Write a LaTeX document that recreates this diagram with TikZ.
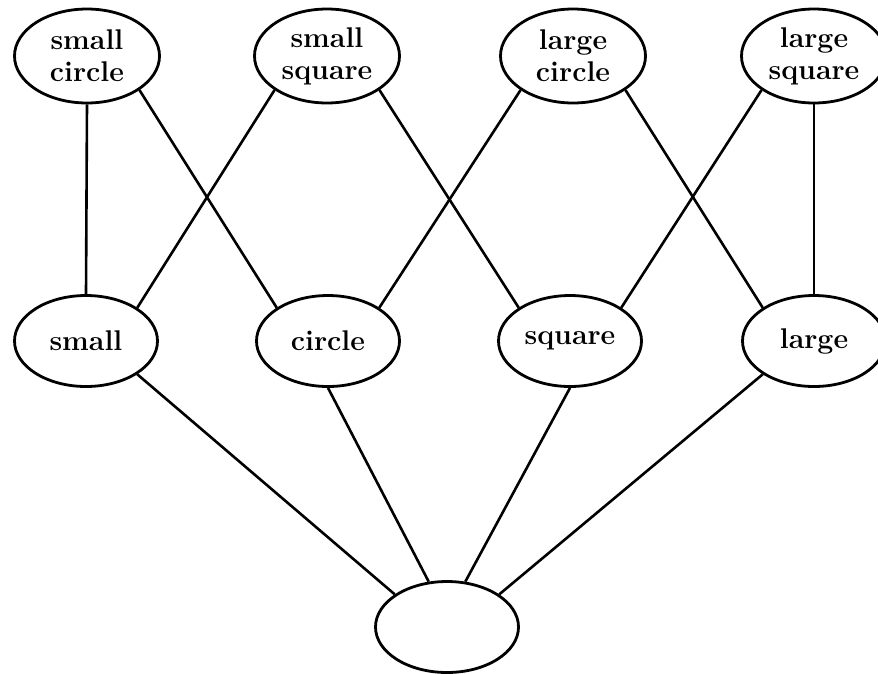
\documentclass[tikz,border=0pt]{standalone}
\usetikzlibrary{shapes.geometric}
\begin{document}
\begin{tikzpicture}[x=1pt,y=-1pt,
  every node/.style={draw, ellipse, line width=2.8pt, inner sep=0pt, align=center,
    font=\fontsize{28.5}{32}\selectfont\bfseries},
  toprow/.style={minimum width=145pt, minimum height=94pt},
  midrow/.style={minimum width=143pt, minimum height=91pt},
  link/.style={line width=2.6pt}]
\useasboundingbox (0,0) rectangle (878,673);

% upper level: combined properties
\node[toprow] (sc) at (87,56)  {small\\circle};
\node[toprow] (ss) at (327,56) {small\\square};
\node[toprow] (lc) at (573,56) {large\\circle};
\node[toprow] (ls) at (814,56) {large\\square};

% middle level: single properties
\node[midrow] (s) at (86,341)  {small};
\node[midrow] (c) at (328,341) {circle};
\node[midrow] (q) at (570,341) {square};
\node[midrow] (l) at (814,341) {large};

% bottom: empty element
\node[midrow] (e) at (447,627) {};

% links between upper and middle level
\draw[link] (sc.south) -- (s.north);
\draw[link] (sc.-33)   -- (c.147);
\draw[link] (ss.213)   -- (s.33);
\draw[link] (ss.-33)   -- (q.147);
\draw[link] (lc.213)   -- (c.33);
\draw[link] (lc.-33)   -- (l.147);
\draw[link] (ls.213)   -- (q.33);
\draw[link] (ls.south) -- (l.north);

% links from middle level to the bottom element
\draw[link] (s.-33)    -- (e.148);
\draw[link] (c.south)  -- (e.112);
\draw[link] (q.south)  -- (e.68);
\draw[link] (l.213)    -- (e.32);
\end{tikzpicture}
\end{document}
